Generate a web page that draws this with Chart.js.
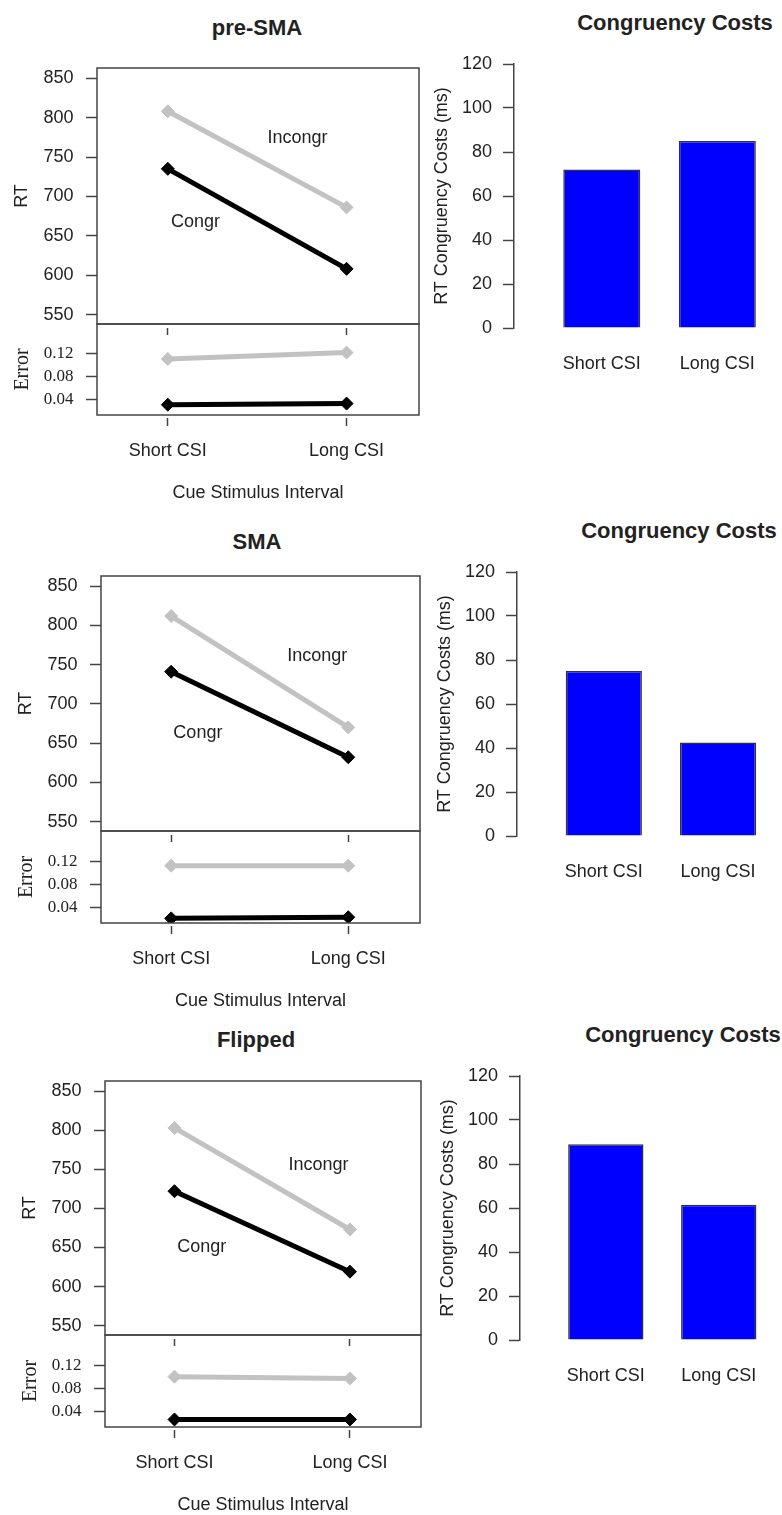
<!DOCTYPE html>
<html>
<head>
<meta charset="utf-8">
<script src="https://cdn.jsdelivr.net/npm/chart.js@4.4.1/dist/chart.umd.min.js"></script>
<style>
  html, body { margin: 0; padding: 0; background: #fff; }
  #page { position: relative; width: 782px; height: 1515px; overflow: hidden; }
  canvas { position: absolute; }
  .title { position: absolute; transform: translate(-50%, -50%); font: bold 22px "Liberation Sans", Arial, sans-serif;
           color: #222; white-space: nowrap; line-height: 1; }
</style>
</head>
<body>
<div id="page"></div>
<script>
// values
const panels = ['pre-SMA', 'SMA', 'Flipped'];
const categories = ['Short CSI', 'Long CSI'];
const rtIncongr = [[808, 686], [812, 670], [803, 673]];
const rtCongr = [[735, 608], [741, 632], [722, 619]];
const errIncongr = [[0.111, 0.122], [0.112, 0.112], [0.100, 0.097]];
const errCongr = [[0.031, 0.033], [0.021, 0.023], [0.026, 0.026]];
const costs = [[72, 85], [75, 42.5], [89, 61.5]];
const rtTicks = [550, 600, 650, 700, 750, 800, 850];
const errTicks = [0.04, 0.08, 0.12];
const costTicks = [0, 20, 40, 60, 80, 100, 120];

// where each row sits on the page
const rows = [
  {boxL: 97, boxR: 419, rtTop: 68, split: 324, errBot: 415, axisX: 514, barTop: 64, barBot: 328, title: [257, 28], costTitle: [675, 23]},
  {boxL: 101, boxR: 420, rtTop: 576, split: 831, errBot: 923, axisX: 517, barTop: 572, barBot: 836, title: [257, 542], costTitle: [679, 531]},
  {boxL: 105, boxR: 421, rtTop: 1081, split: 1335, errBot: 1427, axisX: 520, barTop: 1076, barBot: 1340, title: [256, 1040], costTitle: [683, 1035]}
];
// "Incongr" / "Congr" text, in data units
const labelSpots = [
  {incongr: [1.725, 774], congr: [1.155, 667]},
  {incongr: [1.825, 761], congr: [1.151, 663]},
  {incongr: [1.821, 756], congr: [1.156, 650]}
];

const SANS = '"Liberation Sans", Arial, sans-serif';
const SERIF = '"Liberation Serif", "Times New Roman", serif';
const GREY = '#c2c2c2';
const INK = '#222';
const AXIS = '#444';

Chart.defaults.font.family = SANS;
Chart.defaults.font.size = 18;
Chart.defaults.color = INK;
Chart.defaults.animation = false;
Chart.defaults.plugins.legend.display = false;
Chart.defaults.plugins.tooltip.enabled = false;

const page = document.getElementById('page');

function addCanvas(left, top, w, h) {
  const c = document.createElement('canvas');
  c.width = w;
  c.height = h;
  c.style.left = left + 'px';
  c.style.top = top + 'px';
  c.style.width = w + 'px';
  c.style.height = h + 'px';
  page.appendChild(c);
  return c;
}

function addTitle(text, pos) {
  const d = document.createElement('div');
  d.className = 'title';
  d.textContent = text;
  d.style.left = pos[0] + 'px';
  d.style.top = pos[1] + 'px';
  page.appendChild(d);
}

// fixed axis size, and no extra room asked for by the tick labels
function fixSize(prop, size) {
  return s => {
    s[prop] = size;
    s.paddingTop = s.paddingBottom = s.paddingLeft = s.paddingRight = 0;
  };
}

// box around the plot region
const frame = {
  id: 'frame',
  afterDraw(chart) {
    const {ctx, chartArea: a} = chart;
    ctx.save();
    ctx.strokeStyle = AXIS;
    ctx.lineWidth = 1.5;
    ctx.strokeRect(a.left, a.top, a.right - a.left, a.bottom - a.top);
    ctx.restore();
  }
};

function curveLabels(spots) {
  return {
    id: 'curveLabels',
    afterDatasetsDraw(chart) {
      const {ctx, scales: {x, y}} = chart;
      ctx.save();
      ctx.font = '18px ' + SANS;
      ctx.fillStyle = INK;
      ctx.textAlign = 'center';
      ctx.textBaseline = 'middle';
      ctx.fillText('Incongr', x.getPixelForValue(spots.incongr[0]), y.getPixelForValue(spots.incongr[1]));
      ctx.fillText('Congr', x.getPixelForValue(spots.congr[0]), y.getPixelForValue(spots.congr[1]));
      ctx.restore();
    }
  };
}

function lineSet(values, color) {
  return {
    data: values.map((v, i) => ({x: i + 1, y: v})),
    borderColor: color,
    backgroundColor: color,
    borderWidth: 5,
    pointStyle: 'rectRot',
    pointRadius: 6.5,
    pointBorderWidth: 1
  };
}

const catTicks = s => { s.ticks = categories.map((c, i) => ({value: i + 1})); };
const catLabel = v => categories[Math.round(v) - 1];

panels.forEach((name, p) => {
  const r = rows[p];

  // RT panel
  const rtCanvas = addCanvas(0, r.rtTop - 12, r.boxR + 2, 12 + (r.split - r.rtTop) + 14);
  new Chart(rtCanvas, {
    type: 'line',
    data: {datasets: [lineSet(rtIncongr[p], GREY), lineSet(rtCongr[p], '#000')]},
    options: {
      responsive: false,
      layout: {autoPadding: false, padding: {top: 12, right: 2, left: 0, bottom: 0}},
      scales: {
        x: {
          type: 'linear', min: 0.604, max: 2.405,
          afterBuildTicks: catTicks,
          afterFit: fixSize('height', 14),
          border: {display: false},
          grid: {drawOnChartArea: false, tickLength: 11, tickColor: AXIS, tickWidth: 1.5, tickBorderDash: [0, 4, 7, 40]},
          ticks: {display: false}
        },
        y: {
          min: 538, max: 863,
          afterBuildTicks: s => { s.ticks = rtTicks.map(v => ({value: v})); },
          afterFit: fixSize('width', r.boxL),
          border: {display: false},
          grid: {drawOnChartArea: false, tickLength: 11, tickColor: AXIS, tickWidth: 1.5},
          ticks: {padding: 12.5},
          title: {display: true, text: 'RT', padding: {top: r.boxL - 75 - 10.8, bottom: 0}}
        }
      }
    },
    plugins: [frame, curveLabels(labelSpots[p])]
  });

  // error panel
  const errCanvas = addCanvas(0, r.split - 12, r.boxR + 2, 12 + (r.errBot - r.split) + 90);
  new Chart(errCanvas, {
    type: 'line',
    data: {datasets: [lineSet(errIncongr[p], GREY), lineSet(errCongr[p], '#000')]},
    options: {
      responsive: false,
      layout: {autoPadding: false, padding: {top: 12, right: 2, left: 0, bottom: 0}},
      scales: {
        x: {
          type: 'linear', min: 0.604, max: 2.405,
          afterBuildTicks: catTicks,
          afterFit: fixSize('height', 90),
          border: {display: false},
          grid: {drawOnChartArea: false, tickLength: 11, tickColor: AXIS, tickWidth: 1.5, tickBorderDash: [0, 3, 8, 40]},
          ticks: {padding: 14.2, callback: catLabel},
          title: {display: true, text: 'Cue Stimulus Interval', padding: {top: 0, bottom: 1}}
        },
        y: {
          min: 0.013, max: 0.172,
          afterBuildTicks: s => { s.ticks = errTicks.map(v => ({value: v})); },
          afterFit: fixSize('width', r.boxL),
          border: {display: false},
          grid: {drawOnChartArea: false, tickLength: 11, tickColor: AXIS, tickWidth: 1.5},
          ticks: {padding: 12.5, font: {family: SERIF, size: 17}, callback: v => v.toFixed(2)},
          title: {display: true, text: 'Error', font: {family: SERIF, size: 20}, padding: {top: r.boxL - 74 - 12, bottom: 0}}
        }
      }
    },
    plugins: [frame]
  });

  // congruency cost bars
  const barCanvas = addCanvas(420, r.barTop - 12, 362, 12 + (r.barBot - r.barTop) + 60);
  new Chart(barCanvas, {
    type: 'bar',
    data: {
      datasets: [{
        data: costs[p].map((v, i) => ({x: i + 1, y: v})),
        backgroundColor: '#0000ff',
        borderColor: '#333',
        borderWidth: 1.5,
        categoryPercentage: 1,
        barPercentage: 0.667
      }]
    },
    options: {
      responsive: false,
      layout: {autoPadding: false, padding: {top: 12, right: 0, left: 0, bottom: 0}},
      scales: {
        x: {
          type: 'linear', min: 0.24, max: 2.56, offset: false,
          afterBuildTicks: catTicks,
          afterFit: fixSize('height', 60),
          border: {display: false},
          grid: {display: false, drawTicks: false, offset: false},
          ticks: {padding: 25.7, callback: catLabel}
        },
        y: {
          min: 0, max: 120,
          afterBuildTicks: s => { s.ticks = costTicks.map(v => ({value: v})); },
          afterFit: fixSize('width', r.axisX - 420),
          border: {display: true, color: AXIS, width: 1.5},
          grid: {drawOnChartArea: false, tickLength: 11, tickColor: AXIS, tickWidth: 1.5},
          ticks: {padding: 11},
          title: {display: true, text: 'RT Congruency Costs (ms)', padding: {top: r.axisX - 71.5 - 420 - 10.8, bottom: 0}}
        }
      }
    }
  });

  addTitle(name, r.title);
  addTitle('Congruency Costs', r.costTitle);
});
</script>
</body>
</html>
